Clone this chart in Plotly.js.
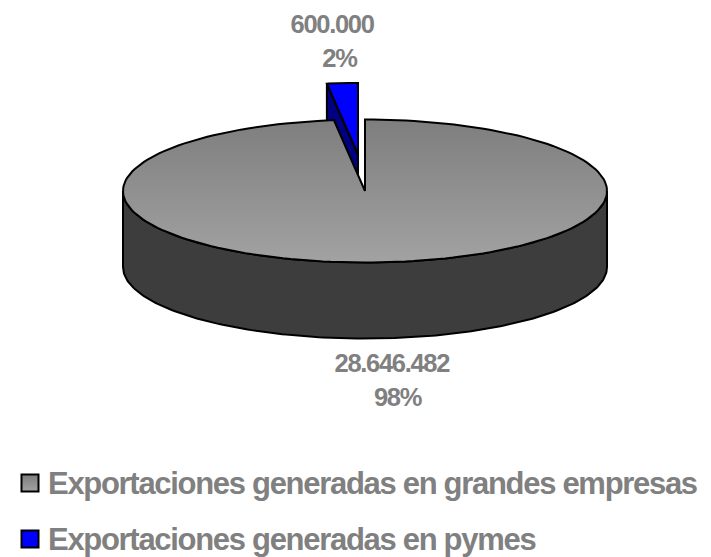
<!DOCTYPE html>
<html>
<head>
<meta charset="utf-8">
<script src="https://cdn.plot.ly/plotly-3.0.1.min.js"></script>
<style>
html,body{margin:0;padding:0;background:#fff}
#chart{width:711px;height:557px}
.annotation-text-g text{letter-spacing:-1.3px}
</style>
</head>
<body>
<div id="chart"></div>
<script>
// Data
const categories = ["Exportaciones generadas en grandes empresas", "Exportaciones generadas en pymes"];
const values = [28646482, 600000];
const valueLabels = ["28.646.482", "600.000"];
const percentLabels = ["98%", "2%"];

// Pie projection (in chart pixels)
const cx = 365, cy = 191, rx = 242, ry = 71.5, depth = 76;
const explodeX = -7, explodeY = -36.5;
const total = values[0] + values[1];
const bigSweep = values[0] / total * 2 * Math.PI;

function arc(a0, a1, ox, oy, dy) {
  const n = 180, xs = [], ys = [];
  for (let i = 0; i <= n; i++) {
    const a = a0 + (a1 - a0) * i / n;
    xs.push(cx + ox + rx * Math.sin(a));
    ys.push(cy + oy + dy - ry * Math.cos(a));
  }
  return {xs, ys};
}
function poly(xs, ys, style) {
  return Object.assign({x: xs, y: ys, type: "scatter", mode: "lines", fill: "toself",
    line: {color: "#000", width: 2}, hoverinfo: "skip", showlegend: false}, style);
}

const traces = [];
// Exploded small slice: cut face, then top
const smallArc = arc(bigSweep, 2 * Math.PI, explodeX, explodeY, 0);
const ax = cx + explodeX, ay = cy + explodeY;
traces.push(poly(
  [smallArc.xs[0], ax, ax, smallArc.xs[0], smallArc.xs[0]],
  [smallArc.ys[0], ay, ay + depth, smallArc.ys[0] + depth, smallArc.ys[0]],
  {fillcolor: "#000080"}));
traces.push(poly([ax].concat(smallArc.xs, [ax]), [ay].concat(smallArc.ys, [ay]), {fillcolor: "#0000ff"}));
// Large slice wall (front half)
const wallTop = arc(Math.PI / 2, 3 * Math.PI / 2, 0, 0, 0);
const wallBot = arc(3 * Math.PI / 2, Math.PI / 2, 0, 0, depth);
traces.push(poly(wallTop.xs.concat(wallBot.xs, [wallTop.xs[0]]), wallTop.ys.concat(wallBot.ys, [wallTop.ys[0]]),
  {fillcolor: "#3d3d3d"}));
// Large slice top
const bigArc = arc(0, bigSweep, 0, 0, 0);
traces.push(poly([cx].concat(bigArc.xs, [cx]), [cy].concat(bigArc.ys, [cy]), {
  fillgradient: {type: "vertical", colorscale: [[0, "#a2a2a2"], [1, "#7e7e7e"]]}
}));
// Legend swatches
const swatchX = 30, legendY = [483, 539];
traces.push({x: [swatchX], y: [legendY[0]], type: "scatter", mode: "markers", hoverinfo: "skip", showlegend: false,
  marker: {symbol: "square", size: 17, color: "#7e7e7e", gradient: {type: "vertical", color: "#a2a2a2"}, line: {color: "#000", width: 2}}});
traces.push({x: [swatchX], y: [legendY[1]], type: "scatter", mode: "markers", hoverinfo: "skip", showlegend: false,
  marker: {symbol: "square", size: 17, color: "#0000ff", line: {color: "#000", width: 2}}});

const gray = "#808080";
const fontFamily = "'Liberation Sans', Arial, sans-serif";
function label(text, x, y, size, anchor) {
  return {text: "<b>" + text + "</b>", x, y, xref: "x", yref: "y", showarrow: false,
    xanchor: anchor || "center", align: anchor || "center", yanchor: "middle",
    font: {family: fontFamily, size, color: gray}};
}
const annotations = [
  label(valueLabels[1], 332, 24, 25.5),
  label(percentLabels[1], 339, 58, 25.5),
  label(valueLabels[0], 392, 363, 25.5),
  label(percentLabels[0], 397, 397, 25.5),
  label(categories[0], 46, 483, 31, "left"),
  label(categories[1], 46, 539, 31, "left")
];

Plotly.newPlot("chart", traces, {
  width: 711, height: 557,
  margin: {l: 0, r: 0, t: 0, b: 0},
  paper_bgcolor: "#fff", plot_bgcolor: "#fff",
  showlegend: false,
  xaxis: {range: [0, 711], visible: false, fixedrange: true},
  yaxis: {range: [557, 0], visible: false, fixedrange: true},
  annotations
}, {displayModeBar: false, staticPlot: true});
</script>
</body>
</html>
